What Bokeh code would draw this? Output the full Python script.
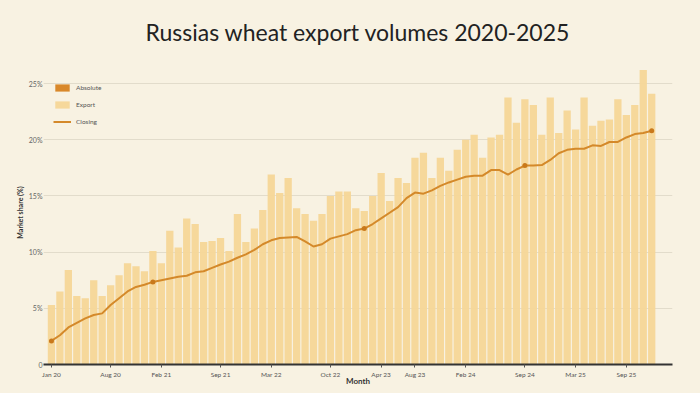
from bokeh.plotting import figure
from bokeh.models import FixedTicker, Legend, LegendItem, Range1d
from bokeh.embed import file_html
from bokeh.resources import INLINE

# ---- data ----
months = list(range(72))
export_values = [
    5.3, 6.5, 8.4, 6.1, 5.9, 7.5, 6.1, 7.05, 7.95, 9.0,
    8.75, 8.3, 10.1, 9.0, 11.9, 10.4, 13.0, 12.5, 10.9, 11.0,
    11.25, 10.1, 13.4, 10.9, 12.1, 13.75, 16.9, 15.25, 16.6, 13.9,
    13.4, 12.8, 13.4, 15.0, 15.4, 15.4, 13.9, 13.65, 15.0, 17.05,
    14.55, 16.6, 16.15, 18.4, 18.85, 16.6, 18.4, 17.25, 19.1, 20.0,
    20.45, 18.4, 20.2, 20.45, 23.75, 21.5, 23.6, 23.1, 20.45, 23.75,
    20.6, 22.6, 20.9, 23.75, 21.25, 21.7, 21.8, 23.6, 22.2, 23.1,
    26.2, 24.1,
]
trend_values = [
    2.1, 2.6, 3.3, 3.7, 4.1, 4.4, 4.55, 5.3, 5.9, 6.5,
    6.9, 7.1, 7.35, 7.5, 7.65, 7.8, 7.9, 8.2, 8.3, 8.6,
    8.9, 9.15, 9.5, 9.8, 10.2, 10.7, 11.05, 11.25, 11.3, 11.35,
    10.95, 10.5, 10.7, 11.2, 11.4, 11.6, 11.95, 12.1, 12.5, 13.0,
    13.5, 14.0, 14.8, 15.3, 15.2, 15.5, 15.9, 16.2, 16.45, 16.7,
    16.8, 16.8, 17.3, 17.3, 16.9, 17.35, 17.7, 17.7, 17.75, 18.2,
    18.8, 19.1, 19.2, 19.2, 19.5, 19.45, 19.8, 19.8, 20.2, 20.5,
    20.6, 20.8,
]
marker_months = [0, 12, 37, 56, 71]
x_tick_months = [0, 7, 13, 20, 26, 33, 39, 43, 49, 56, 62, 68]
x_tick_labels = ["Jan 20", "Aug 20", "Feb 21", "Sep 21", "Mar 22", "Oct 22",
                 "Apr 23", "Aug 23", "Feb 24", "Sep 24", "Mar 25", "Sep 25"]
y_ticks = [0, 5, 10, 15, 20, 25]
y_tick_labels = ["0", "5%", "10%", "15%", "20%", "25%"]
legend_labels = ["Absolute", "Export", "Closing"]

BG = "#f8f2e2"
BAR = "#f5d697"
LINE = "#d4892a"
DARK = "#d9882a"

p = figure(frame_width=629, frame_height=304, output_backend="svg",
           toolbar_location=None,
           x_range=Range1d(-0.94, 73.46), y_range=Range1d(0, 27.05),
           min_border_left=36, min_border_right=17, min_border_top=54,
           min_border_bottom=19)
p.margin = (0, 0, 0, 7)
p.background_fill_color = BG
p.border_fill_color = BG
p.outline_line_color = None

p.title.text = "Russias wheat export volumes 2020-2025"
p.title.align = "center"
p.title.text_font = "Lato"
p.title.text_font_size = "23px"
p.title.text_font_style = "normal"
p.title.text_color = "#222222"
p.title.standoff = 30

bars = p.vbar(x=months, top=export_values, width=0.86, fill_color=BAR,
              line_color=None, fill_alpha=0.95)
trend = p.line(x=months, y=trend_values, line_color=LINE, line_width=2)
p.scatter(x=marker_months, y=[trend_values[m] for m in marker_months],
          size=5, fill_color="#c9791c", line_color=None)
# legend-only swatch, placed outside the visible range
dummy = p.rect(x=[-100], y=[-100], width=1, height=1, fill_color=DARK,
               line_color=None)

# axes
p.xgrid.grid_line_color = None
p.ygrid.grid_line_color = "#e2dccb"
p.ygrid.grid_line_width = 1.2
p.ygrid.ticker = FixedTicker(ticks=y_ticks)

p.yaxis.ticker = FixedTicker(ticks=y_ticks)
p.yaxis.major_label_overrides = {t: l for t, l in zip(y_ticks, y_tick_labels)}
p.yaxis.axis_line_color = None
p.yaxis.major_tick_line_color = None
p.yaxis.minor_tick_line_color = None
p.yaxis.major_tick_out = 0
p.yaxis.major_tick_in = 0
p.yaxis.major_label_text_font_size = "7px"
p.yaxis.major_label_text_color = "#666666"
p.yaxis.major_label_standoff = 1
p.yaxis.axis_label = "Market share (%)"
p.yaxis.axis_label_text_font_size = "7px"
p.yaxis.axis_label_text_font_style = "bold"
p.yaxis.axis_label_text_color = "#333333"
p.yaxis.axis_label_standoff = 2

p.xaxis.ticker = FixedTicker(ticks=x_tick_months)
p.xaxis.major_label_overrides = {t: l for t, l in zip(x_tick_months, x_tick_labels)}
p.xaxis.axis_line_color = "#333333"
p.xaxis.axis_line_width = 2
p.xaxis.major_tick_line_color = "#555555"
p.xaxis.major_tick_in = 0
p.xaxis.major_tick_out = 3
p.xaxis.minor_tick_line_color = None
p.xaxis.major_label_text_font_size = "6.5px"
p.xaxis.major_label_text_color = "#555555"
p.xaxis.major_label_standoff = 3
p.xaxis.axis_label = "Month"
p.xaxis.axis_label_text_font_size = "8px"
p.xaxis.axis_label_text_font_style = "bold"
p.xaxis.axis_label_text_color = "#333333"
p.xaxis.axis_label_standoff = -5
for ax in (p.xaxis[0], p.yaxis[0]):
    ax.major_label_text_font = "Lato"
    ax.axis_label_text_font = "Lato"

legend = Legend(items=[
    LegendItem(label=legend_labels[0], renderers=[dummy]),
    LegendItem(label=legend_labels[1], renderers=[bars]),
    LegendItem(label=legend_labels[2], renderers=[trend]),
], location=(10, 238))
legend.background_fill_alpha = 0
legend.border_line_color = None
legend.label_text_font = "Lato"
legend.label_text_font_size = "6.5px"
legend.label_text_color = "#555555"
legend.glyph_width = 18
legend.glyph_height = 9
legend.label_height = 9
legend.spacing = 8
legend.margin = 0
legend.padding = 4
p.add_layout(legend, "center")

html = file_html(p, INLINE)
style = "<style>html, body { background-color: %s; }</style>" % BG
html = html.replace("</head>", style + "</head>", 1)
open("out.html", "w").write(html)
